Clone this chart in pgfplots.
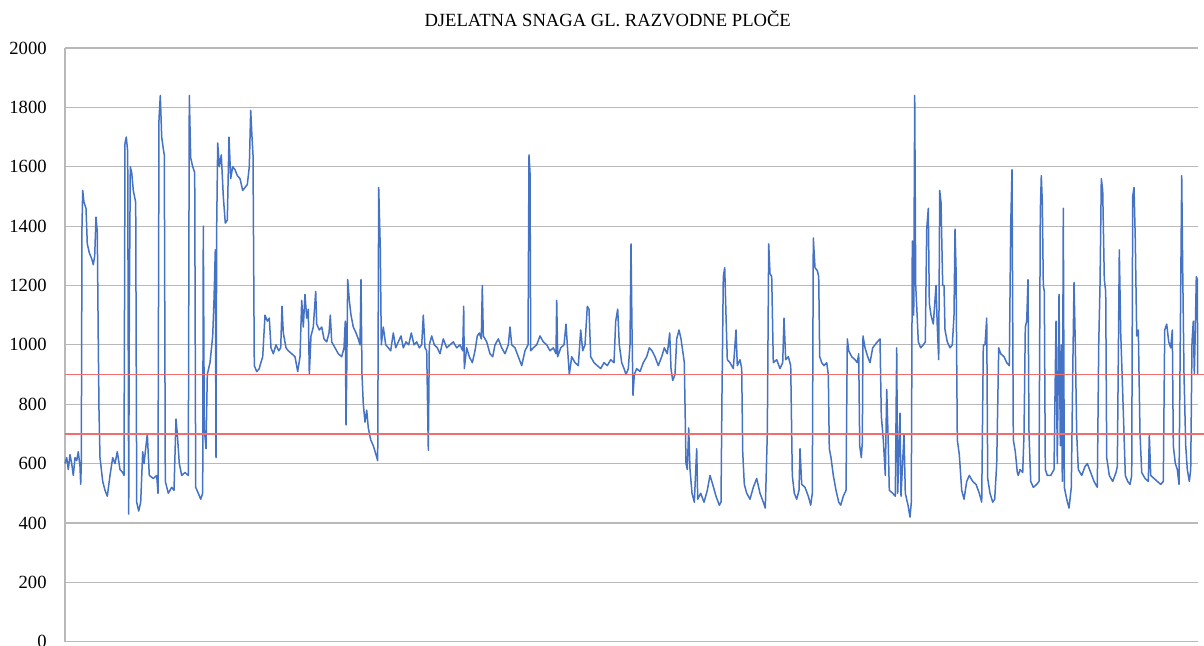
\documentclass[border=0pt]{standalone}
\usepackage{fontspec}
\setmainfont{Liberation Serif}
\usepackage{pgfplots}
\pgfplotsset{compat=1.18}
\definecolor{series}{HTML}{4472C4}
\definecolor{limitred}{RGB}{240,110,110}
\definecolor{gridgray}{RGB}{185,185,185}
\begin{document}
\begin{tikzpicture}
\begin{axis}[
  scale only axis,
  width=566.5pt, height=296.85pt,
  xmin=65, xmax=1198, ymin=0, ymax=2000,
  axis x line=bottom, axis y line=left,
  axis line style={draw=gridgray, line width=0.6pt, -},
  xtick=\empty,
  ytick={0,200,...,2000},
  major tick length=0pt,
  ymajorgrids,
  grid style={draw=gridgray, line width=0.6pt},
  /pgf/number format/assume math mode=true,
  /pgf/number format/1000 sep={},
  yticklabel style={font=\fontsize{9.3}{10}\selectfont, inner sep=0pt, anchor=east, xshift=-9pt},
  title={DJELATNA SNAGA GL. RAZVODNE PLOČE},
  every axis title/.style={font=\fontsize{9.3}{10}\selectfont, at={(0.479,1)}, anchor=base, yshift=10.5pt, inner sep=0pt},
  clip=false,
]
\addplot[draw=series, line width=0.75pt, mark=none, line join=round] table {
x y
65 600
66.7 620
68.3 580
70 630
71.7 600
73.3 560
75 620
76.7 610
78.3 640
80 590
80.7 530
81.3 600
82 1400
82.7 1520
84 1480
86 1460
87.3 1340
89.3 1310
91.7 1290
93.3 1270
94.7 1300
96 1430
97.3 1380
98.3 1000
99 780
100 620
102.7 540
105 510
107.3 490
110 560
112.7 620
115 600
117.3 640
120 580
122.7 570
124 560
125 1680
126.3 1700
127.7 1650
128.7 430
129.3 1100
130.3 1600
131.7 1580
133.3 1520
135.7 1480
136.7 470
138.7 440
140.7 470
142.7 640
144 600
147.3 700
149.3 560
153.3 550
156.7 560
158 500
159 1760
160.3 1840
161.7 1700
163.3 1660
164.3 1640
165.3 540
168.3 500
171.7 520
174 510
176 750
177.3 700
179.3 600
181.7 560
185 570
188.3 560
189.3 1840
190.7 1630
192.7 1600
194.7 1580
195.7 520
198.3 500
200.7 480
202.7 500
203.3 1400
204.3 720
206 650
207.3 900
210 940
212.7 1030
214 1150
215.3 1320
216 620
216.7 1400
217.7 1680
219.3 1600
221.3 1640
223.3 1500
225.3 1410
227.3 1420
229 1700
230.7 1560
232.7 1600
235 1590
237.3 1570
240 1560
242.7 1520
245 1530
247.3 1540
249.3 1600
250.7 1790
252 1700
253 1640
254.3 930
256.7 910
259.3 920
260 930
262.7 960
265 1100
267.3 1080
269.3 1090
271 990
273.3 970
276 1000
278.7 980
280.7 990
282 1130
283.3 1040
286 990
288.3 980
291.7 970
295 960
297.7 910
300 960
301.7 1150
303.3 1060
305 1170
306.7 1090
308.3 1120
309.3 900
311 1030
313.3 1060
315.7 1180
316.7 1070
319.3 1050
321.7 1060
324 1020
326.7 1010
329 1040
330.3 1100
331.7 1010
335 990
338.3 970
341.7 960
344 990
345.3 1080
346 730
346.7 900
347.7 1220
349.3 1150
351 1100
353.3 1060
356 1040
358.3 1020
360 1000
361 1220
362 900
363.3 800
365 740
366.7 780
368.3 720
370.7 680
373.3 660
376 630
377.7 610
378.7 1530
379.7 1400
380.3 1320
381.3 1000
383.3 1060
385.7 1000
388.3 990
390.7 980
393.3 1040
395.7 990
398.3 1010
401 1030
403.3 990
406 1010
408.7 1000
411.3 1040
414 1000
416.7 1010
419.3 990
421.7 1000
423.3 1100
425 990
426.7 980
428.3 645
429.3 1000
431.7 1030
434.3 1000
437.3 990
440 970
443.3 1020
446.7 990
450 1000
453.3 1010
456.7 990
460 1000
462.7 980
463.7 1130
464.3 920
466.7 990
469.3 960
472.3 940
475 980
477.3 1030
479.3 1040
481.3 1020
482.3 1200
483.3 1030
486.7 1010
490 970
492.7 960
495 1000
498.3 1020
501.7 990
505 970
508.3 1000
510 1060
511.7 1000
515 990
518.3 960
521.7 930
525 980
528 1000
529 1640
530 1580
530.7 980
533.3 990
536.7 1000
540 1030
543.3 1010
546.7 1000
550 980
553.3 990
556 970
556.7 1150
557.7 960
560.7 990
564 1000
566 1070
567.7 980
569.3 900
571.7 960
575 940
578.3 930
580.7 1050
582.7 980
585 1000
587.3 1130
589 1120
590.7 960
594 940
597.3 930
600.7 920
604 940
607.3 930
610.7 950
614 940
615.7 1080
617.7 1120
619.3 1000
621.7 940
624 920
626 900
628.3 920
630 1000
631 1340
632 1050
633 830
634.3 900
636.7 920
640 910
643.3 940
646.7 960
649.3 990
652 980
655 960
658.3 930
661.7 960
664.3 990
667.3 970
669.7 1040
671 920
672.7 880
675 900
676.7 1020
679 1050
681 1020
682.7 980
684.3 940
686 600
687.3 580
688.7 720
690 580
692 500
694.3 470
696.7 650
697.7 480
700.7 500
704 470
707.3 510
710 560
712.7 530
716 490
719.3 460
721 470
722 840
723.3 1230
724.7 1260
726 1100
727.3 950
730 940
733.3 920
736 1050
737.3 930
740 950
741.7 920
742.7 640
744.3 530
746.7 500
750 480
753.3 520
756.7 550
760 500
763.3 470
765.3 450
767.3 700
768.7 1340
770 1240
771.7 1230
773.3 940
776.7 950
780 920
782.7 940
784 1090
785.7 950
788.3 960
790.7 930
792.3 560
794.3 500
796.7 480
799 510
800 650
801.7 530
805 520
808.3 490
810.7 460
812.3 500
813.3 1360
815 1260
817.3 1250
818.7 1230
819.7 960
821.7 940
824 930
826.7 940
828.3 900
829.3 650
831 620
833.3 560
836 510
838.7 470
840.7 460
843.3 490
846 510
847.3 1020
848.7 980
851.7 960
855 950
857.3 940
858.7 970
859.7 660
861.3 620
862.3 670
863 1030
865 990
867.7 960
870 940
872.7 990
875 1000
877.3 1010
880 1020
881.3 760
883.3 680
885.3 560
886.7 850
888 700
889.3 510
892.7 500
895.3 490
896.7 990
897.7 500
900 770
901 490
904 700
905.3 500
908 460
910 420
911.3 470
912.3 1350
913.7 1100
914.7 1840
915.7 1200
916.7 1130
918.3 1010
920.7 990
923.3 1000
925.3 1010
926.7 1390
928.3 1460
929.3 1140
931 1100
933.3 1070
936 1200
937.3 1060
938.7 950
939.7 1520
941 1480
942.7 1200
944 1200
945 1050
947.3 1010
950 990
952.3 1000
954 1100
955 1390
956 1260
957.3 680
959.3 630
961.7 510
964 480
966.7 540
969.3 560
972.7 540
976 530
979.3 500
981.7 470
983.3 1000
985 1000
986.7 1090
987.7 550
990 500
992.7 470
994.7 480
996.7 600
998.7 990
1000.7 970
1004 960
1006.7 940
1009.3 930
1010.7 1400
1012 1590
1013.3 680
1015.3 640
1017.3 570
1018.3 560
1020 580
1022.7 570
1024 700
1025.3 1060
1026.7 1080
1028 1220
1029 700
1030.7 540
1033.3 520
1036.7 530
1039 540
1040.3 1450
1041.3 1570
1042.3 1480
1043.3 1200
1044.3 1180
1045.3 580
1047.3 560
1050.7 560
1054 580
1056 1080
1057.3 600
1059 1170
1060.3 660
1061.3 1000
1062.3 540
1063.3 1460
1064.3 520
1066.7 480
1069 450
1071.3 520
1072.7 900
1074 1210
1075.3 1000
1076.7 700
1078.3 580
1081.7 560
1085 590
1087.3 600
1090.7 570
1094 540
1097.3 520
1098.7 1000
1100 1200
1101.3 1560
1102.7 1520
1104.3 1220
1105.7 1180
1106.7 620
1109.3 560
1112.7 540
1116 570
1117.3 590
1119.3 1320
1120.7 1040
1122.3 880
1124 700
1125.3 560
1127.7 540
1130 530
1131.7 560
1132.7 1500
1134 1530
1135.3 1350
1136.7 1030
1138.3 1050
1140 700
1141.7 570
1145 550
1148.3 540
1149.3 700
1150.7 560
1154 550
1157.3 540
1160.7 530
1163.3 540
1164.7 1050
1166.7 1070
1168.7 1010
1170.7 990
1172.3 1050
1173.3 660
1175.3 600
1177.3 580
1179 530
1180.7 1190
1181.7 1570
1182.7 1250
1184 900
1185.7 660
1187.3 580
1189.3 540
1190.7 580
1192 1010
1193.3 1080
1194.3 900
1195.3 1050
1196.3 1230
1197.3 1220
1197.7 900
};
\addplot[draw=limitred, line width=0.8pt, mark=none] coordinates {(65,900) (1212,900)};
\addplot[draw=limitred, line width=0.8pt, mark=none] coordinates {(65,700) (1212,700)};
\end{axis}
\pgfresetboundingbox
\path[use as bounding box] ([shift={(-32.5pt,-2.15pt)}]current axis.south west) rectangle ([shift={(3pt,24pt)}]current axis.north east);
\end{tikzpicture}
\end{document}
